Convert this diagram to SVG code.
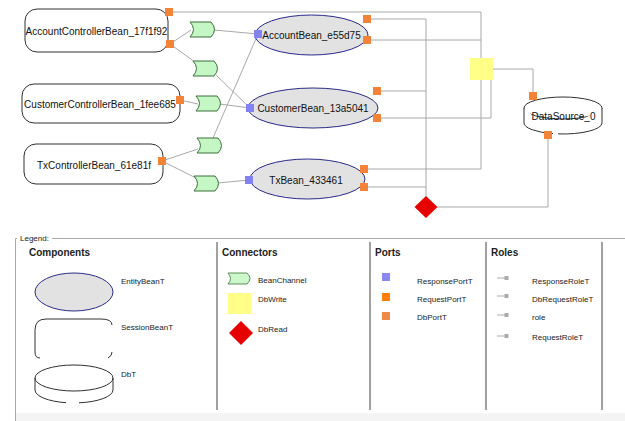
<svg xmlns="http://www.w3.org/2000/svg" xmlns:xlink="http://www.w3.org/1999/xlink" width="625" height="421" viewBox="0 0 625 421">
<style>
.bg{fill:#ffffff}
.ln{fill:none;stroke:#a8a8a8;stroke-width:1}
.sess{fill:#ffffff;stroke:#303030;stroke-width:1}
.ent{fill:#e2e2e2;stroke:#2a2a8a;stroke-width:1}
.db{fill:#ffffff;stroke:#303030;stroke-width:1}
.ch{fill:#c4f7c4;stroke:#3c6e3c;stroke-width:1}
.wr{fill:#ffff88}
.rd{fill:#e60000}
.pr{fill:#f4833a}
.pb{fill:#8282f2}
.t{font-family:"Liberation Sans",Arial,sans-serif;font-size:10px;fill:#111}
.lt{font-family:"Liberation Sans",Arial,sans-serif;font-size:8px;fill:#222}
.lh{font-family:"Liberation Sans",Arial,sans-serif;font-size:10px;font-weight:bold;fill:#222}
.div{stroke:#444;stroke-width:1}
.frame{fill:none;stroke:#a8a8a8;stroke-width:1}
</style>
<defs>
<path id="chs" d="M0,0 L21,0 Q28,7.5 21,15 L0,15 Q7,7.5 0,0 Z"/>
<rect id="port" x="-4" y="-4" width="8" height="8"/>
</defs>
<rect class="bg" x="0" y="0" width="625" height="421"/>

<g id="connectors">
<polyline class="ln" points="169,12 481,12 481,169 364,169"/>
<polyline class="ln" points="367,40 481,40"/>
<polyline class="ln" points="491,80 491,118 377,118"/>
<polyline class="ln" points="493,69 533,69 533,96"/>
<polyline class="ln" points="426,19 426,196"/>
<polyline class="ln" points="367,19 426,19"/>
<polyline class="ln" points="377,91 426,91"/>
<polyline class="ln" points="364,187 426,187"/>
<polyline class="ln" points="437,207 548,207 548,135"/>
<line class="ln" x1="170" y1="44" x2="191" y2="30"/>
<line class="ln" x1="214" y1="30" x2="258" y2="34"/>
<line class="ln" x1="170" y1="44" x2="195" y2="62"/>
<line class="ln" x1="216" y1="75" x2="250" y2="108"/>
<line class="ln" x1="180" y1="100" x2="198" y2="104"/>
<line class="ln" x1="220" y1="104" x2="250" y2="108"/>
<line class="ln" x1="162" y1="161" x2="198" y2="149"/>
<line class="ln" x1="213" y1="138" x2="258" y2="34"/>
<line class="ln" x1="162" y1="161" x2="196" y2="178"/>
<line class="ln" x1="218" y1="183" x2="249" y2="180"/>
</g>

<g id="AccountControllerBean_17f1f92">
<rect class="sess" x="25" y="9" width="143" height="43" rx="12"/>
<text class="t" x="96.5" y="35" text-anchor="middle">AccountControllerBean_17f1f92</text>
<use href="#port" class="pr" x="169" y="12"/>
<use href="#port" class="pr" x="170" y="44"/>
</g>
<g id="CustomerControllerBean_1fee685">
<rect class="sess" x="22" y="84" width="158" height="39" rx="12"/>
<text class="t" x="100" y="108" text-anchor="middle">CustomerControllerBean_1fee685</text>
<use href="#port" class="pr" x="180" y="100"/>
</g>
<g id="TxControllerBean_61e81f">
<rect class="sess" x="24" y="144" width="139" height="40" rx="12"/>
<text class="t" x="94" y="169" text-anchor="middle">TxControllerBean_61e81f</text>
<use href="#port" class="pr" x="162" y="161"/>
</g>

<g id="channel1"><use href="#chs" class="ch" x="190" y="22"/></g>
<g id="channel2"><use href="#chs" class="ch" x="193" y="61"/></g>
<g id="channel3"><use href="#chs" class="ch" x="196" y="96"/></g>
<g id="channel4"><use href="#chs" class="ch" x="197" y="138"/></g>
<g id="channel5"><use href="#chs" class="ch" x="194" y="176"/></g>

<g id="AccountBean_e55d75">
<ellipse class="ent" cx="311.5" cy="35" rx="56.5" ry="20"/>
<text class="t" x="311.5" y="39" text-anchor="middle">AccountBean_e55d75</text>
<use href="#port" class="pb" x="258" y="34"/>
<use href="#port" class="pr" x="367" y="19"/>
<use href="#port" class="pr" x="367" y="40"/>
</g>
<g id="CustomerBean_13a5041">
<ellipse class="ent" cx="313" cy="108" rx="65" ry="20"/>
<text class="t" x="313" y="112" text-anchor="middle">CustomerBean_13a5041</text>
<use href="#port" class="pb" x="250" y="108"/>
<use href="#port" class="pr" x="377" y="91"/>
<use href="#port" class="pr" x="377" y="118"/>
</g>
<g id="TxBean_433461">
<ellipse class="ent" cx="307.5" cy="179" rx="57.5" ry="20"/>
<text class="t" x="306" y="184" text-anchor="middle">TxBean_433461</text>
<use href="#port" class="pb" x="249" y="180"/>
<use href="#port" class="pr" x="364" y="169"/>
<use href="#port" class="pr" x="364" y="187"/>
</g>

<g id="DbWrite">
<rect class="wr" x="470" y="58" width="23" height="22"/>
</g>
<g id="DbRead">
<polygon class="rd" points="426,196 437.5,207 426,218 414.5,207"/>
</g>

<g id="DataSource_0">
<ellipse class="db" cx="563" cy="108" rx="39" ry="11"/>
<path class="db" fill="none" d="M524,108 L524,123 A39,11 0 0 0 553,133.6 M558,133.9 A39,11 0 0 0 602,123 L602,108"/>
<text class="t" x="563.5" y="120" text-anchor="middle">DataSource_0</text>
<use href="#port" class="pr" x="533" y="96"/>
<use href="#port" class="pr" x="548" y="135"/>
</g>

<g id="legend">
<rect x="15" y="413" width="610" height="8" fill="#f4f4f4"/>
<path class="frame" d="M17,238.5 L15.5,238.5 L15.5,421 M52,238.5 L625,238.5"/>
<text class="lt" x="20" y="241">Legend:</text>
<line class="div" x1="217" y1="242" x2="217" y2="410"/>
<line class="div" x1="370" y1="242" x2="370" y2="410"/>
<line class="div" x1="486" y1="242" x2="486" y2="410"/>
<line class="div" x1="602" y1="242" x2="602" y2="410"/>

<text class="lh" x="29" y="256">Components</text>
<text class="lh" x="222" y="256">Connectors</text>
<text class="lh" x="375" y="256">Ports</text>
<text class="lh" x="491" y="256">Roles</text>

<ellipse class="ent" cx="74" cy="292" rx="39" ry="19"/>
<text class="lt" x="121" y="284">EntityBeanT</text>
<path fill="none" stroke="#303030" d="M35,330 Q35,319 46,319 L101,319 Q112,319 112,325 M35,330 L35,352 Q35,358 40,358 M112,352 Q112,356 108,358"/>
<text class="lt" x="121" y="330">SessionBeanT</text>
<ellipse class="db" cx="74" cy="378" rx="39" ry="13"/>
<path fill="none" stroke="#303030" d="M35,378 L35,390 A39,13 0 0 0 66,402.7 M79,402.8 A39,13 0 0 0 113,390 L113,378"/>
<text class="lt" x="121" y="377">DbT</text>

<path fill="#ccf8cc" stroke="#3c6e3c" stroke-width="0.8" d="M228,273 L247,273 Q253,278.5 247,284 L228,284 Q233,278.5 228,273 Z"/>
<text class="lt" x="258" y="283">BeanChannel</text>
<rect class="wr" x="228" y="293" width="23" height="21"/>
<text class="lt" x="258" y="302">DbWrite</text>
<polygon class="rd" points="241,321 253,333 241,345 229,333"/>
<text class="lt" x="258" y="332">DbRead</text>

<rect x="382" y="273" width="8" height="8" fill="#8888ee"/>
<text class="lt" x="417" y="284">ResponsePortT</text>
<rect x="382" y="293" width="8" height="8" fill="#ff8000"/>
<text class="lt" x="417" y="302">RequestPortT</text>
<rect x="382" y="312" width="8" height="8" fill="#f08848"/>
<text class="lt" x="417" y="320">DbPortT</text>

<g stroke="#aaaaaa" fill="#aaaaaa">
<line x1="497" y1="278" x2="506" y2="278"/><rect x="505" y="276.5" width="3" height="3"/>
<line x1="497" y1="296" x2="506" y2="296"/><rect x="505" y="294.5" width="3" height="3"/>
<line x1="497" y1="315" x2="506" y2="315"/><rect x="505" y="313.5" width="3" height="3"/>
<line x1="497" y1="336" x2="506" y2="336"/><rect x="505" y="334.5" width="3" height="3"/>
</g>
<text class="lt" x="532" y="284">ResponseRoleT</text>
<text class="lt" x="532" y="302">DbRequestRoleT</text>
<text class="lt" x="532" y="320">role</text>
<text class="lt" x="532" y="340">RequestRoleT</text>
</g>
</svg>
